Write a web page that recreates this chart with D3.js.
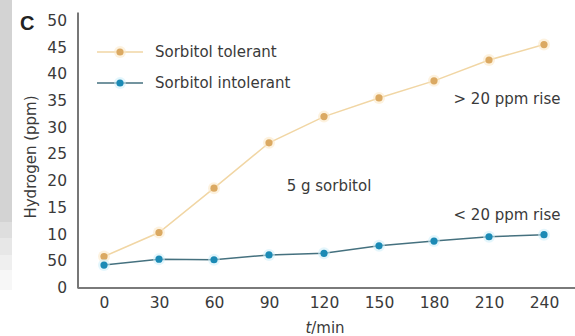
<!DOCTYPE html>
<html>
<head>
<meta charset="utf-8">
<script src="https://cdn.jsdelivr.net/npm/d3@7"></script>
<style>
  html, body { margin: 0; padding: 0; background: #fff; }
  svg { display: block; font-family: "DejaVu Sans", Verdana, sans-serif; }
</style>
</head>
<body>
<svg id="chart" width="575" height="336"></svg>
<script>
// Breath hydrogen after a 5 g sorbitol load
const times = [0, 30, 60, 90, 120, 150, 180, 210, 240];
const tolerant = [5.8, 10.3, 18.6, 27.1, 32.0, 35.5, 38.7, 42.6, 45.5];
const intolerant = [4.2, 5.3, 5.2, 6.1, 6.4, 7.8, 8.7, 9.5, 9.9];
const yTickValues = [0, 5, 10, 15, 20, 25, 30, 35, 40, 45, 50];
const yTickLabels = ["0", "50", "10", "15", "20", "25", "30", "35", "40", "45", "50"];
const xTickLabels = ["0", "30", "60", "90", "120", "150", "180", "210", "240"];
const seriesNames = ["Sorbitol tolerant", "Sorbitol intolerant"];

const svg = d3.select("#chart");

// grey strip on the left margin, fading out in steps toward the bottom
const strip = [
  { y0: 0, y1: 222, c: "#d3d3d3" },
  { y0: 222, y1: 238, c: "#dedede" },
  { y0: 238, y1: 255, c: "#e7e7e7" },
  { y0: 255, y1: 270, c: "#efefef" },
  { y0: 270, y1: 290, c: "#f7f7f7" }
];
svg.selectAll("rect.strip").data(strip).join("rect")
  .attr("class", "strip")
  .attr("x", 0).attr("width", 12)
  .attr("y", d => d.y0).attr("height", d => d.y1 - d.y0)
  .attr("fill", d => d.c);

const x = d3.scaleLinear().domain([0, 240]).range([104, 544]);
const y = d3.scaleLinear().domain([0, 50]).range([287.5, 20.5]);

const axisLeftX = 78;
const axisRightX = 575;

// y axis
const yAxis = d3.axisLeft(y)
  .tickValues(yTickValues)
  .tickFormat((d, i) => yTickLabels[i])
  .tickSize(0).tickPadding(11);
const gy = svg.append("g").attr("transform", `translate(${axisLeftX},0)`).call(yAxis);
gy.select(".domain").remove();
gy.selectAll("text").attr("font-size", 15.5).attr("fill", "#3a3a3a")
  .attr("font-family", "DejaVu Sans, sans-serif");

// x axis
const xAxis = d3.axisBottom(x)
  .tickValues(times)
  .tickFormat((d, i) => xTickLabels[i])
  .tickSize(0).tickPadding(9);
const gx = svg.append("g").attr("transform", `translate(0,${y(0)})`).call(xAxis);
gx.select(".domain").remove();
gx.selectAll("text").attr("font-size", 15.5).attr("fill", "#3a3a3a")
  .attr("font-family", "DejaVu Sans, sans-serif");

// axis lines
svg.append("line")
  .attr("x1", axisLeftX).attr("x2", axisLeftX)
  .attr("y1", y(50) - 8).attr("y2", y(0) + 1)
  .attr("stroke", "#555").attr("stroke-width", 1.6);
svg.append("line")
  .attr("x1", axisLeftX).attr("x2", axisRightX)
  .attr("y1", y(0) + 0.5).attr("y2", y(0) + 0.5)
  .attr("stroke", "#7a7a7a").attr("stroke-width", 2);

// series
const series = [
  { name: seriesNames[0], values: tolerant, line: "#f1d6a4", dot: "#dba962", halo: "#fbe7c4" },
  { name: seriesNames[1], values: intolerant, line: "#45717f", dot: "#1b8ab5", halo: "#cdeefa" }
];

const line = d3.line().x((d, i) => x(times[i])).y(d => y(d));

series.forEach(s => {
  svg.append("path")
    .attr("d", line(s.values))
    .attr("fill", "none")
    .attr("stroke", s.line)
    .attr("stroke-width", 1.5);
  svg.append("g").selectAll("circle.halo").data(s.values).join("circle")
    .attr("cx", (d, i) => x(times[i])).attr("cy", d => y(d))
    .attr("r", 6).attr("fill", s.halo).attr("opacity", 0.55);
  svg.append("g").selectAll("circle.dot").data(s.values).join("circle")
    .attr("cx", (d, i) => x(times[i])).attr("cy", d => y(d))
    .attr("r", 3.6).attr("fill", s.dot);
});

// legend
const legend = svg.append("g");
series.forEach((s, i) => {
  const ly = 52 + i * 31;
  legend.append("line")
    .attr("x1", 97).attr("x2", 143).attr("y1", ly).attr("y2", ly)
    .attr("stroke", s.line).attr("stroke-width", 1.5);
  legend.append("circle").attr("cx", 120).attr("cy", ly).attr("r", 6)
    .attr("fill", s.halo).attr("opacity", 0.55);
  legend.append("circle").attr("cx", 120).attr("cy", ly).attr("r", 3.6)
    .attr("fill", s.dot);
  legend.append("text")
    .attr("x", 155).attr("y", ly).attr("dy", "0.35em")
    .attr("font-size", 15).attr("fill", "#3a3a3a")
    .text(s.name);
});

// panel letter
svg.append("text")
  .attr("x", 20).attr("y", 30)
  .attr("font-family", "Liberation Sans, Arial, sans-serif")
  .attr("font-weight", "bold").attr("font-size", 20).attr("fill", "#222")
  .text("C");

// y axis title
svg.append("text")
  .attr("transform", "translate(31,157) rotate(-90)")
  .attr("text-anchor", "middle").attr("dy", "0.35em")
  .attr("font-size", 15).attr("fill", "#3a3a3a")
  .text("Hydrogen (ppm)");

// x axis title
const xt = svg.append("text")
  .attr("x", 325).attr("y", 328).attr("dy", "0.35em")
  .attr("text-anchor", "middle")
  .attr("font-size", 15).attr("fill", "#3a3a3a");
xt.append("tspan").attr("font-style", "italic").text("t");
xt.append("tspan").text("/min");

// annotations
const notes = [
  { text: "> 20 ppm rise", x: 507, y: 99 },
  { text: "5 g sorbitol", x: 329, y: 186 },
  { text: "< 20 ppm rise", x: 507, y: 215 }
];
svg.selectAll("text.note").data(notes).join("text")
  .attr("class", "note")
  .attr("x", d => d.x).attr("y", d => d.y).attr("dy", "0.35em")
  .attr("text-anchor", "middle")
  .attr("font-size", 15).attr("fill", "#3a3a3a")
  .text(d => d.text);
</script>
</body>
</html>
